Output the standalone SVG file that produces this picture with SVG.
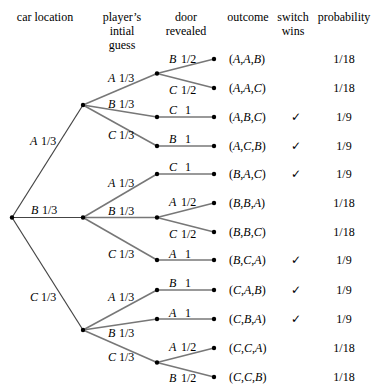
<svg xmlns="http://www.w3.org/2000/svg" width="372" height="389" viewBox="0 0 372 389" font-family="'Liberation Serif', 'DejaVu Serif', serif">
<style>
text{font-family:'Liberation Serif','DejaVu Serif',serif;font-size:12px;fill:#000}
.i{font-style:italic}
.h{text-anchor:middle}
.c{text-anchor:middle}
.e1{stroke:#444;stroke-width:1.2;fill:none}
.e{stroke:#777;stroke-width:1.5;fill:none}
.ck{font-family:'DejaVu Sans',sans-serif;font-size:12px}
</style>
<rect width="372" height="389" fill="#fff"/>
<g id="headers">
<text class="h" x="45" y="21">car location</text>
<text class="h" x="122" y="21">player’s</text>
<text class="h" x="122" y="35">intial</text>
<text class="h" x="122" y="49">guess</text>
<text class="h" x="186" y="21">door</text>
<text class="h" x="186" y="35">revealed</text>
<text class="h" x="248" y="21">outcome</text>
<text class="h" x="293" y="21">switch</text>
<text class="h" x="293" y="35">wins</text>
<text class="h" x="344" y="21">probability</text>
</g>
<g id="connectors">
<line class="e1" x1="12" y1="217.5" x2="83" y2="105"/>
<line class="e1" x1="12" y1="217.5" x2="83" y2="217.5"/>
<line class="e1" x1="12" y1="217.5" x2="83" y2="330"/>
<line class="e" x1="83" y1="105" x2="157" y2="73.5"/>
<line class="e" x1="83" y1="105" x2="157" y2="117"/>
<line class="e" x1="83" y1="105" x2="157" y2="146"/>
<line class="e" x1="83" y1="217.5" x2="157" y2="174"/>
<line class="e" x1="83" y1="217.5" x2="157" y2="217.5"/>
<line class="e" x1="83" y1="217.5" x2="157" y2="260"/>
<line class="e" x1="83" y1="330" x2="157" y2="290"/>
<line class="e" x1="83" y1="330" x2="157" y2="319"/>
<line class="e" x1="83" y1="330" x2="157" y2="362.5"/>
<line class="e" x1="157" y1="73.5" x2="214" y2="59"/>
<line class="e" x1="157" y1="73.5" x2="214" y2="88"/>
<line class="e" x1="157" y1="117" x2="214" y2="117"/>
<line class="e" x1="157" y1="146" x2="214" y2="146"/>
<line class="e" x1="157" y1="174" x2="214" y2="174"/>
<line class="e" x1="157" y1="217.5" x2="214" y2="203"/>
<line class="e" x1="157" y1="217.5" x2="214" y2="232"/>
<line class="e" x1="157" y1="260" x2="214" y2="260"/>
<line class="e" x1="157" y1="290" x2="214" y2="290"/>
<line class="e" x1="157" y1="319" x2="214" y2="319"/>
<line class="e" x1="157" y1="362.5" x2="214" y2="348"/>
<line class="e" x1="157" y1="362.5" x2="214" y2="377"/>
</g>
<g id="edge-labels">
<text x="30" y="145"><tspan class="i">A</tspan><tspan x="41">1/3</tspan></text>
<text x="31" y="214"><tspan class="i">B</tspan><tspan x="42">1/3</tspan></text>
<text x="30" y="301"><tspan class="i">C</tspan><tspan x="41">1/3</tspan></text>
<text x="108" y="82"><tspan class="i">A</tspan><tspan x="119">1/3</tspan></text>
<text x="108" y="108"><tspan class="i">B</tspan><tspan x="119">1/3</tspan></text>
<text x="108" y="139"><tspan class="i">C</tspan><tspan x="119">1/3</tspan></text>
<text x="108" y="187"><tspan class="i">A</tspan><tspan x="119">1/3</tspan></text>
<text x="108" y="215"><tspan class="i">B</tspan><tspan x="119">1/3</tspan></text>
<text x="108" y="258"><tspan class="i">C</tspan><tspan x="119">1/3</tspan></text>
<text x="108" y="301"><tspan class="i">A</tspan><tspan x="119">1/3</tspan></text>
<text x="108" y="337"><tspan class="i">B</tspan><tspan x="119">1/3</tspan></text>
<text x="108" y="361"><tspan class="i">C</tspan><tspan x="119">1/3</tspan></text>
<text x="169" y="63"><tspan class="i">B</tspan><tspan x="181">1/2</tspan></text>
<text x="169" y="94"><tspan class="i">C</tspan><tspan x="181">1/2</tspan></text>
<text x="169" y="114"><tspan class="i">C</tspan><tspan x="185">1</tspan></text>
<text x="169" y="143"><tspan class="i">B</tspan><tspan x="185">1</tspan></text>
<text x="169" y="171"><tspan class="i">C</tspan><tspan x="185">1</tspan></text>
<text x="169" y="206"><tspan class="i">A</tspan><tspan x="181">1/2</tspan></text>
<text x="169" y="238"><tspan class="i">C</tspan><tspan x="181">1/2</tspan></text>
<text x="169" y="258"><tspan class="i">A</tspan><tspan x="185">1</tspan></text>
<text x="169" y="287"><tspan class="i">B</tspan><tspan x="185">1</tspan></text>
<text x="169" y="317"><tspan class="i">A</tspan><tspan x="185">1</tspan></text>
<text x="169" y="351"><tspan class="i">A</tspan><tspan x="181">1/2</tspan></text>
<text x="169" y="382"><tspan class="i">B</tspan><tspan x="181">1/2</tspan></text>
</g>
<g id="root"><circle cx="12" cy="217.5" r="2.2"/></g>
<g id="n-A"><circle cx="83" cy="105" r="2.2"/></g>
<g id="n-B"><circle cx="83" cy="217.5" r="2.2"/></g>
<g id="n-C"><circle cx="83" cy="330" r="2.2"/></g>
<g id="n-AA"><circle cx="157" cy="73.5" r="2.2"/></g>
<g id="n-AB"><circle cx="157" cy="117" r="2.2"/></g>
<g id="n-AC"><circle cx="157" cy="146" r="2.2"/></g>
<g id="n-BA"><circle cx="157" cy="174" r="2.2"/></g>
<g id="n-BB"><circle cx="157" cy="217.5" r="2.2"/></g>
<g id="n-BC"><circle cx="157" cy="260" r="2.2"/></g>
<g id="n-CA"><circle cx="157" cy="290" r="2.2"/></g>
<g id="n-CB"><circle cx="157" cy="319" r="2.2"/></g>
<g id="n-CC"><circle cx="157" cy="362.5" r="2.2"/></g>
<g id="leaf-AAB"><circle cx="214" cy="59" r="2.2"/><text x="229" y="63">(<tspan class="i">A</tspan>,<tspan class="i">A</tspan>,<tspan class="i">B</tspan>)</text><text class="c" x="344" y="63">1/18</text></g>
<g id="leaf-AAC"><circle cx="214" cy="88" r="2.2"/><text x="229" y="92">(<tspan class="i">A</tspan>,<tspan class="i">A</tspan>,<tspan class="i">C</tspan>)</text><text class="c" x="344" y="92">1/18</text></g>
<g id="leaf-ABC"><circle cx="214" cy="117" r="2.2"/><text x="229" y="121">(<tspan class="i">A</tspan>,<tspan class="i">B</tspan>,<tspan class="i">C</tspan>)</text><text class="ck c" x="296" y="121">✓</text><text class="c" x="344" y="121">1/9</text></g>
<g id="leaf-ACB"><circle cx="214" cy="146" r="2.2"/><text x="229" y="150">(<tspan class="i">A</tspan>,<tspan class="i">C</tspan>,<tspan class="i">B</tspan>)</text><text class="ck c" x="296" y="150">✓</text><text class="c" x="344" y="150">1/9</text></g>
<g id="leaf-BAC"><circle cx="214" cy="174" r="2.2"/><text x="229" y="178">(<tspan class="i">B</tspan>,<tspan class="i">A</tspan>,<tspan class="i">C</tspan>)</text><text class="ck c" x="296" y="178">✓</text><text class="c" x="344" y="178">1/9</text></g>
<g id="leaf-BBA"><circle cx="214" cy="203" r="2.2"/><text x="229" y="207">(<tspan class="i">B</tspan>,<tspan class="i">B</tspan>,<tspan class="i">A</tspan>)</text><text class="c" x="344" y="207">1/18</text></g>
<g id="leaf-BBC"><circle cx="214" cy="232" r="2.2"/><text x="229" y="236">(<tspan class="i">B</tspan>,<tspan class="i">B</tspan>,<tspan class="i">C</tspan>)</text><text class="c" x="344" y="236">1/18</text></g>
<g id="leaf-BCA"><circle cx="214" cy="260" r="2.2"/><text x="229" y="264">(<tspan class="i">B</tspan>,<tspan class="i">C</tspan>,<tspan class="i">A</tspan>)</text><text class="ck c" x="296" y="264">✓</text><text class="c" x="344" y="264">1/9</text></g>
<g id="leaf-CAB"><circle cx="214" cy="290" r="2.2"/><text x="229" y="294">(<tspan class="i">C</tspan>,<tspan class="i">A</tspan>,<tspan class="i">B</tspan>)</text><text class="ck c" x="296" y="294">✓</text><text class="c" x="344" y="294">1/9</text></g>
<g id="leaf-CBA"><circle cx="214" cy="319" r="2.2"/><text x="229" y="323">(<tspan class="i">C</tspan>,<tspan class="i">B</tspan>,<tspan class="i">A</tspan>)</text><text class="ck c" x="296" y="323">✓</text><text class="c" x="344" y="323">1/9</text></g>
<g id="leaf-CCA"><circle cx="214" cy="348" r="2.2"/><text x="229" y="352">(<tspan class="i">C</tspan>,<tspan class="i">C</tspan>,<tspan class="i">A</tspan>)</text><text class="c" x="344" y="352">1/18</text></g>
<g id="leaf-CCB"><circle cx="214" cy="377" r="2.2"/><text x="229" y="381">(<tspan class="i">C</tspan>,<tspan class="i">C</tspan>,<tspan class="i">B</tspan>)</text><text class="c" x="344" y="381">1/18</text></g>
</svg>
